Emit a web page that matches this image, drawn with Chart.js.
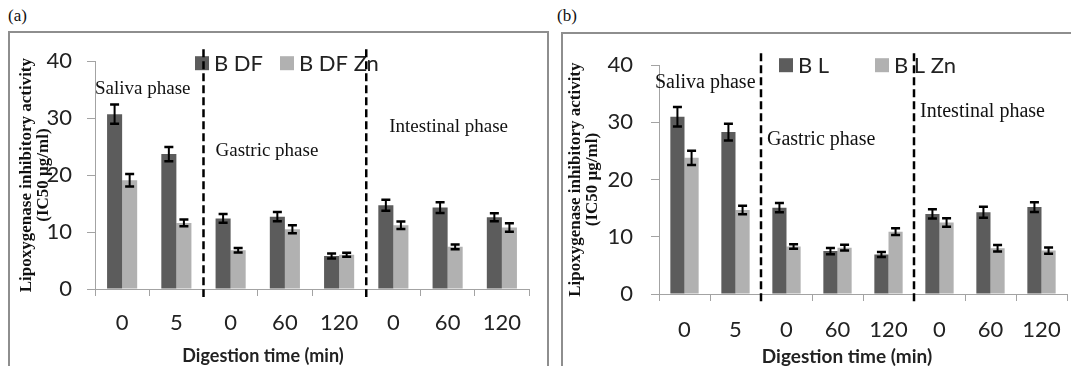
<!DOCTYPE html>
<html>
<head>
<meta charset="utf-8">
<title>Lipoxygenase inhibitory activity</title>
<script src="https://cdn.jsdelivr.net/npm/chart.js@4.4.1/dist/chart.umd.min.js"></script>
<style>
  html, body { margin: 0; padding: 0; background: #fff; }
  body { width: 1071px; height: 366px; overflow: hidden; position: relative; }
  .tag { position: absolute; font-family: "Liberation Serif", serif; font-size: 17px; color: #111; }
  .panel { position: absolute; border: 2px solid #8e8e8e; background: #fff; }
  .panel canvas { display: block; }
</style>
</head>
<body>
<div class="tag" style="left:8px;top:6px">(a)</div>
<div class="tag" style="left:557px;top:6px">(b)</div>
<div class="panel" style="left:8px;top:31px;width:537px;height:340px"><canvas id="chartA"></canvas></div>
<div class="panel" style="left:561px;top:32px;width:520px;height:340px"><canvas id="chartB"></canvas></div>

<script>
/* Data */
const timeLabels = ["0", "5", "0", "60", "120", "0", "60", "120"];
const yTicks = [0, 10, 20, 30, 40];
const phaseNames = ["Saliva phase", "Gastric phase", "Intestinal phase"];
const xTitle = "Digestion time (min)";
const yTitle = ["Lipoxygenase inhibitory activity", "(IC50 \u00b5g/ml)"];

// panel (a)
const bdfLabel = "B DF";
const bdfValues = [30.7, 23.7, 12.4, 12.7, 5.8, 14.7, 14.3, 12.6];
const bdfErrors = [1.7, 1.25, 0.75, 0.8, 0.45, 0.95, 0.95, 0.7];
const bdfZnLabel = "B DF Zn";
const bdfZnValues = [19.1, 11.6, 6.8, 10.5, 6.0, 11.2, 7.4, 10.8];
const bdfZnErrors = [1.1, 0.6, 0.4, 0.7, 0.35, 0.65, 0.4, 0.75];

// panel (b)
const blLabel = "B L";
const blValues = [31.0, 28.3, 15.1, 7.5, 6.9, 14.0, 14.3, 15.2];
const blErrors = [1.7, 1.45, 0.8, 0.55, 0.45, 0.8, 0.95, 0.85];
const blZnLabel = "B L Zn";
const blZnValues = [23.8, 14.7, 8.3, 8.1, 10.9, 12.5, 8.0, 7.6];
const blZnErrors = [1.25, 0.75, 0.4, 0.5, 0.6, 0.75, 0.55, 0.55];

/* Colours */
const darkBar = "#5c5c5c";
const lightBar = "#b1b1b1";
const axisGray = "#a3a3a3";

/* Draws error bars, phase dividers, phase names, legend and x title */
const overlayPlugin = {
  id: "overlay",
  afterDatasetsDraw(chart, args, opts) {
    const ctx = chart.ctx;
    const xs = chart.scales.x;
    const ys = chart.scales.y;
    const area = chart.chartArea;
    ctx.save();

    // error bars
    chart.data.datasets.forEach((ds, i) => {
      const meta = chart.getDatasetMeta(i);
      meta.data.forEach((bar, j) => {
        const top = ys.getPixelForValue(ds.data[j] + ds.errors[j]);
        const bot = ys.getPixelForValue(ds.data[j] - ds.errors[j]);
        ctx.strokeStyle = "#000";
        ctx.lineWidth = 2;
        ctx.beginPath();
        ctx.moveTo(bar.x, top);
        ctx.lineTo(bar.x, bot);
        ctx.stroke();
        ctx.lineWidth = 2.5;
        ctx.beginPath();
        ctx.moveTo(bar.x - 4.5, top);
        ctx.lineTo(bar.x + 4.5, top);
        ctx.moveTo(bar.x - 4.5, bot);
        ctx.lineTo(bar.x + 4.5, bot);
        ctx.stroke();
      });
    });

    // legend
    ctx.textBaseline = "middle";
    ctx.textAlign = "left";
    ctx.font = opts.legendFont;
    chart.data.datasets.forEach((ds, i) => {
      const lx = area.left + opts.legendX[i];
      const ly = area.top + opts.legendY;
      ctx.fillStyle = ds.backgroundColor;
      ctx.fillRect(lx, ly - 7, 14, 14);
      ctx.fillStyle = "#222";
      ctx.fillText(ds.label, lx + 19, ly + 1);
    });

    // dashed lines between phases
    ctx.strokeStyle = "#000";
    ctx.lineWidth = 2.5;
    ctx.setLineDash([8, 4]);
    opts.dividers.forEach((k) => {
      const px = xs.getPixelForValue(k - 0.5);
      ctx.beginPath();
      ctx.moveTo(px, area.top - 12);
      ctx.lineTo(px, area.bottom + 8);
      ctx.stroke();
    });
    ctx.setLineDash([]);

    // phase names
    ctx.font = opts.phaseFont;
    ctx.fillStyle = "#111";
    opts.phases.forEach((p, i) => {
      const px = xs.getPixelForValue(p.at - 0.5) + p.dx;
      ctx.fillText(phaseNames[i], px, ys.getPixelForValue(p.y));
    });

    // x axis title
    ctx.font = opts.titleFont;
    ctx.textAlign = "center";
    ctx.fillStyle = "#222";
    ctx.fillText(xTitle, area.left + opts.titleX, area.bottom + opts.titleY);
    ctx.restore();
  },
};

function makeChart(id, series, lay) {
  const ctx = document.getElementById(id).getContext("2d");
  return new Chart(ctx, {
    type: "bar",
    data: {
      labels: timeLabels,
      datasets: series.map((s, i) => ({
        label: s.label,
        data: s.values,
        errors: s.errors,
        backgroundColor: i === 0 ? darkBar : lightBar,
        borderWidth: 0,
        categoryPercentage: 0.555,
        barPercentage: 1.0,
      })),
    },
    plugins: [overlayPlugin],
    options: {
      responsive: true,
      maintainAspectRatio: false,
      animation: false,
      layout: { padding: { top: lay.top, right: lay.right, left: 0, bottom: 0 } },
      plugins: {
        legend: { display: false },
        tooltip: { enabled: false },
        overlay: lay.overlay,
      },
      scales: {
        x: {
          afterFit: (scale) => { scale.height = lay.xHeight; },
          grid: {
            offset: true,
            drawOnChartArea: false,
            tickLength: 7,
            color: axisGray,
          },
          border: { color: axisGray, width: 1 },
          ticks: {
            padding: lay.xPad,
            color: "#222",
            font: { family: "Lato", size: 22 },
          },
        },
        y: {
          min: 0,
          max: 40,
          afterFit: (scale) => { scale.width = lay.yWidth; },
          afterBuildTicks: (scale) => { scale.ticks = yTicks.map((v) => ({ value: v })); },
          grid: {
            drawOnChartArea: false,
            tickLength: 8,
            color: axisGray,
          },
          border: { color: axisGray, width: 1 },
          ticks: {
            padding: lay.yPad,
            color: "#222",
            font: { family: "Lato", size: 22 },
          },
          title: {
            display: true,
            text: yTitle,
            color: "#111",
            padding: { top: lay.yTitlePad, bottom: 0 },
            font: { family: "Liberation Serif", size: 17, weight: "bold", lineHeight: "17px" },
          },
        },
      },
    },
  });
}

/* Panel (a) */
makeChart(
  "chartA",
  [
    { label: bdfLabel, values: bdfValues, errors: bdfErrors },
    { label: bdfZnLabel, values: bdfZnValues, errors: bdfZnErrors },
  ],
  {
    top: 16, right: 18, xHeight: 84, yWidth: 85, xPad: 14, yPad: 15, yTitlePad: 8,
    overlay: {
      dividers: [2, 5],
      phases: [
        { at: 0, dx: 0, y: 35.2 },
        { at: 2, dx: 12, y: 24.3 },
        { at: 5, dx: 23, y: 28.5 },
      ],
      phaseFont: '19px "Liberation Serif"',
      legendFont: '22px Lato',
      legendX: [100, 185],
      legendY: 2,
      titleFont: 'bold 18px Lato',
      titleX: 168,
      titleY: 67,
    },
  }
);

/* Panel (b) */
makeChart(
  "chartB",
  [
    { label: blLabel, values: blValues, errors: blErrors },
    { label: blZnLabel, values: blZnValues, errors: blZnErrors },
  ],
  {
    top: 21, right: 16, xHeight: 80, yWidth: 96, xPad: 16, yPad: 18, yTitlePad: 4,
    overlay: {
      dividers: [2, 5],
      phases: [
        { at: 0, dx: -4, y: 37 },
        { at: 2, dx: 6, y: 26.9 },
        { at: 5, dx: 6, y: 31.8 },
      ],
      phaseFont: '20px "Liberation Serif"',
      legendX: [120, 216],
      legendY: 0,
      legendFont: '22px Lato',
      titleFont: 'bold 19px Lato',
      titleX: 188,
      titleY: 63,
    },
  }
);
</script>
</body>
</html>
